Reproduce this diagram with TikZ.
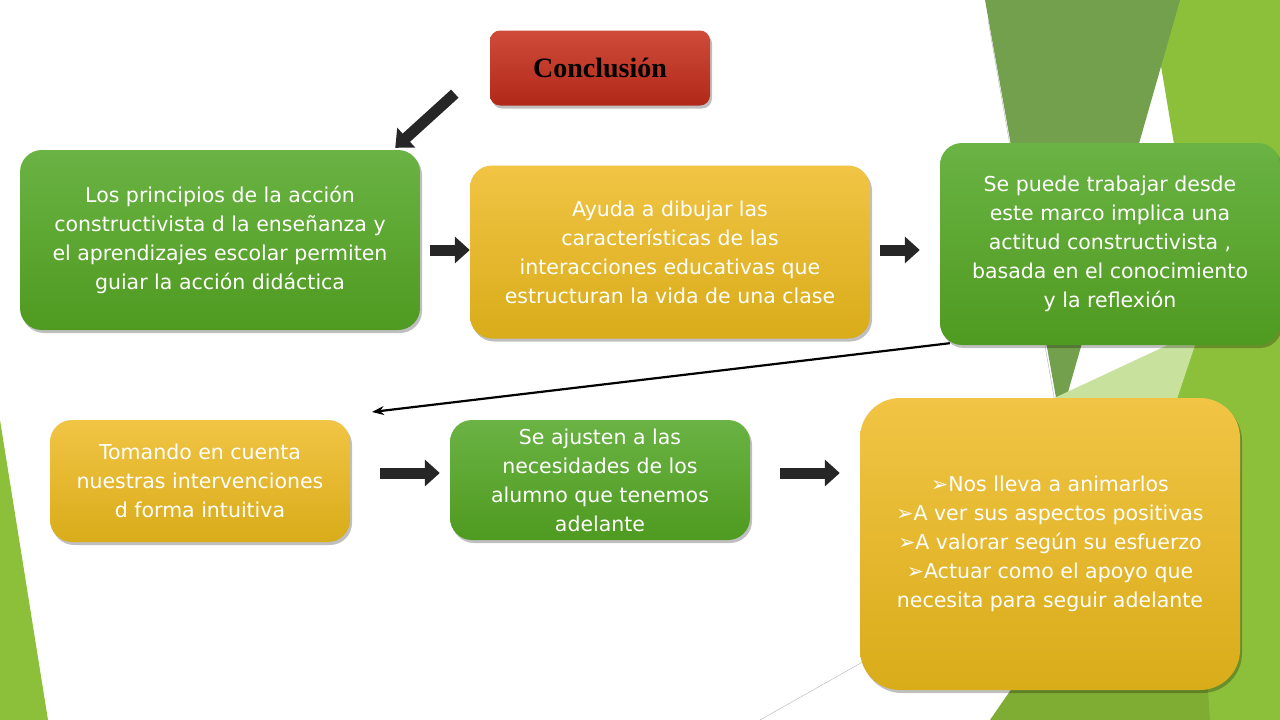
\documentclass[tikz,border=0pt]{standalone}
\usepackage{fontspec}
\setmainfont{DejaVu Sans}
\newfontfamily\titlefont{Liberation Serif}
\definecolor{boxgreenA}{HTML}{6AB344}
\definecolor{boxgreenB}{HTML}{4F9A20}
\definecolor{boxyellowA}{HTML}{F1C445}
\definecolor{boxyellowB}{HTML}{D9AC1A}
\definecolor{boxredA}{HTML}{D04B3B}
\definecolor{boxredB}{HTML}{B02818}
\definecolor{leafdark}{HTML}{72A04C}
\definecolor{leaflight}{HTML}{8DC03A}
\definecolor{leafpale}{HTML}{C8E29E}
\usetikzlibrary{arrows.meta, positioning, calc, shadows}

\tikzset{
  card/.style={rounded corners=22pt, align=center, text=white, font=\fontsize{20.5}{29}\selectfont,
    drop shadow={shadow xshift=2pt, shadow yshift=-3pt, fill=black, opacity=0.25}},
  greencard/.style={card, top color=boxgreenA, bottom color=boxgreenB},
  yellowcard/.style={card, top color=boxyellowA, bottom color=boxyellowB},
  blockarrow/.style={line width=11pt, -{Triangle[length=15pt, width=26pt]}, black!85},
}

\begin{document}
\begin{tikzpicture}[x=1pt, y=-1pt]
  \useasboundingbox (0,0) rectangle (1280,720);
  % background leaves
  \fill[leaflight] (1150,0) -- (1280,0) -- (1280,720) -- (1080,720) -- (1200,300) -- cycle;
  \fill[leafdark] (985,0) -- (1180,0) -- (1060,420) -- cycle;
  \fill[leafpale] (1050,400) -- (1200,330) -- (1110,600) -- cycle;
  \fill[leaflight!90!black] (990,720) -- (1190,430) -- (1210,720) -- cycle;
  \fill[leaflight] (0,420) -- (48,720) -- (0,720) -- cycle;
  \draw[gray!60, thin] (988,20) -- (1058,420);
  \draw[gray!60, thin] (760,720) -- (875,655);

  % boxes
  \node[rounded corners=10pt, top color=boxredA, bottom color=boxredB, minimum width=220pt, minimum height=75pt,
    font=\titlefont\bfseries\fontsize{28}{30}\selectfont,
    drop shadow={shadow xshift=2pt, shadow yshift=-3pt, fill=black, opacity=0.25}] (concl) at (600,68) {Conclusión};
  \node[greencard, minimum width=400pt, minimum height=180pt] (princ) at (220,240)
    {Los principios de la acción\\constructivista d la enseñanza y\\el aprendizajes escolar permiten\\guiar la acción didáctica};
  \node[yellowcard, minimum width=400pt, minimum height=173pt] (ayuda) at (670,252)
    {Ayuda a dibujar las\\características de las\\interacciones educativas que\\estructuran la vida de una clase};
  \node[greencard, minimum width=340pt, minimum height=202pt] (marco) at (1110,244)
    {Se puede trabajar desde\\este marco implica una\\actitud constructivista ,\\basada en el conocimiento\\y la reflexión};
  \node[yellowcard, minimum width=300pt, minimum height=122pt] (tomando) at (200,481)
    {Tomando en cuenta\\nuestras intervenciones\\d forma intuitiva};
  \node[greencard, minimum width=300pt, minimum height=120pt] (ajuste) at (600,480)
    {Se ajusten a las\\necesidades de los\\alumno que tenemos\\adelante};
  \node[yellowcard, rounded corners=40pt, minimum width=380pt, minimum height=292pt] (lleva) at (1050,544) {};
  \node[text=white, align=center, font=\fontsize{20.5}{29}\selectfont] (llevatxt) at (1050,544)
    {➢Nos lleva a animarlos\\➢A ver sus aspectos positivas\\➢A valorar según su esfuerzo\\➢Actuar como el apoyo que\\necesita para seguir adelante};

  % connectors
  \draw[blockarrow] ($(concl.south west)+(-35,-12)$) -- ($(princ.north east)+(-25,-2)$);
  \draw[blockarrow] (princ.east |- 0,250) ++(10,0) -- (ayuda.west |- 0,250);
  \draw[blockarrow] (ayuda.east |- 0,250) ++(10,0) -- ($(marco.west |- 0,250)+(-20,0)$);
  \draw[blockarrow] (tomando.east |- 0,473) ++(30,0) -- ($(ajuste.west |- 0,473)+(-10,0)$);
  \draw[blockarrow] (ajuste.east |- 0,473) ++(30,0) -- ($(lleva.west |- 0,473)+(-20,0)$);
  \coordinate (turn) at (372,412);
  \draw[line width=2.2pt, -{Stealth[length=12pt]}] ($(marco.south west)+(10,-2)$) -- (turn);
\end{tikzpicture}
\end{document}
